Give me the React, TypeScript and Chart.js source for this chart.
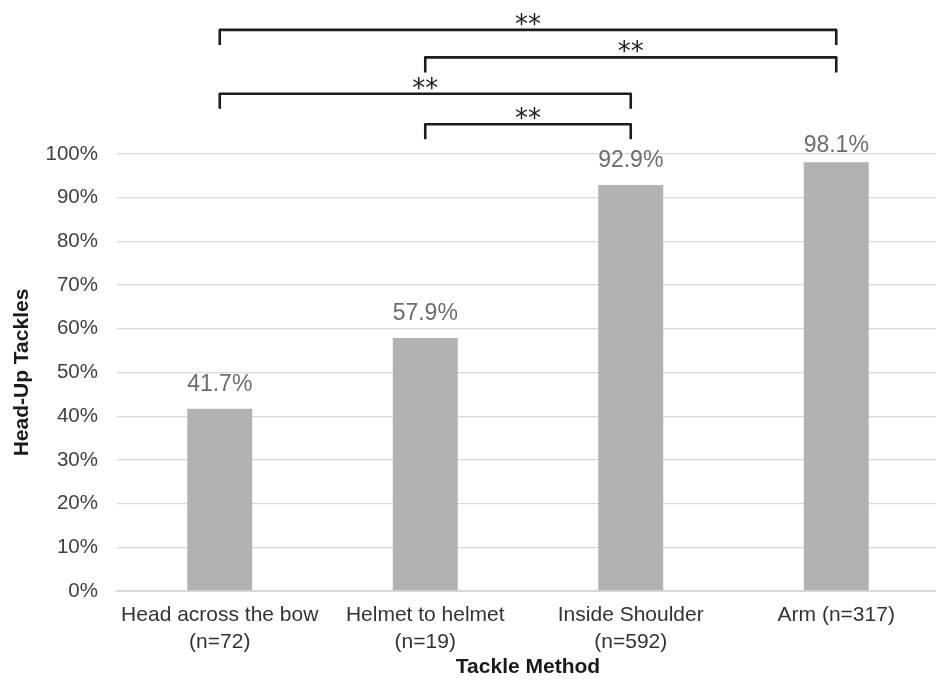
import React, { useEffect, useRef } from "react";
import { Chart, registerables } from "chart.js";

Chart.register(...registerables);

const categories = ["Head across the bow", "Helmet to helmet", "Inside Shoulder", "Arm"];
const sampleSizes = [72, 19, 592, 317];
const headUpPct = [41.7, 57.9, 92.9, 98.1];
const yTicks = [0, 10, 20, 30, 40, 50, 60, 70, 80, 90, 100];

// significance brackets: from category index, to category index, label, level (axis units)
const bracketFrom = [0, 1, 0, 1];
const bracketTo = [3, 3, 2, 2];
const bracketLabels = ["**", "**", "**", "**"];
const bracketLevels = [128.4, 122.1, 113.8, 106.8];

const labelLines = categories.map((c, i) =>
  c === "Arm" ? [`${c} (n=${sampleSizes[i]})`] : [c, `(n=${sampleSizes[i]})`]
);

const valueLabelPlugin = {
  id: "valueLabels",
  afterDatasetsDraw(chart: any) {
    const { ctx, chartArea } = chart;
    const meta = chart.getDatasetMeta(0);
    ctx.save();
    ctx.font = "23px 'Liberation Sans', Arial, sans-serif";
    ctx.fillStyle = "#6d6d6d";
    ctx.textAlign = "center";
    ctx.textBaseline = "middle";
    meta.data.forEach((bar: any, i: number) => {
      const y = Math.max(bar.y - 24, chartArea.top - 8);
      ctx.fillText(headUpPct[i].toFixed(1) + "%", bar.x, y);
    });
    ctx.restore();
  },
};

const bracketPlugin = {
  id: "brackets",
  afterDraw(chart: any) {
    const { ctx } = chart;
    const xs = chart.scales.x;
    const ys = chart.scales.y;
    ctx.save();
    ctx.strokeStyle = "#1c1c1c";
    ctx.lineWidth = 2.6;
    ctx.lineJoin = "round";
    ctx.lineCap = "butt";
    bracketFrom.forEach((f, i) => {
      const x1 = xs.getPixelForValue(f);
      const x2 = xs.getPixelForValue(bracketTo[i]);
      const y = ys.getPixelForValue(bracketLevels[i]);
      const leg = 15;
      ctx.beginPath();
      ctx.moveTo(x1, y + leg);
      ctx.lineTo(x1, y);
      ctx.lineTo(x2, y);
      ctx.lineTo(x2, y + leg);
      ctx.stroke();
      ctx.font = "26px 'DejaVu Sans', sans-serif";
      ctx.fillStyle = "#1c1c1c";
      ctx.textAlign = "center";
      ctx.textBaseline = "alphabetic";
      ctx.fillText(bracketLabels[i], (x1 + x2) / 2, y + 3);
    });
    ctx.restore();
  },
};

export default function App() {
  const ref = useRef<HTMLCanvasElement | null>(null);
  useEffect(() => {
    if (!ref.current) return;
    const chart = new Chart(ref.current, {
      type: "bar",
      data: {
        labels: labelLines,
        datasets: [
          {
            data: headUpPct,
            backgroundColor: "#b1b2b6",
            barPercentage: 1,
            categoryPercentage: 0.316,
          },
        ],
      },
      options: {
        animation: false,
        responsive: false,
        devicePixelRatio: 1,
        layout: { padding: { top: 154, right: 5, left: 0, bottom: 0 } },
        plugins: { legend: { display: false }, tooltip: { enabled: false } },
        scales: {
          x: {
            grid: { display: false, drawTicks: false },
            border: { display: true, color: "#d9d9d9", width: 2 },
            ticks: {
              color: "#333333",
              font: { family: "'Liberation Sans', Arial, sans-serif", size: 21, lineHeight: 1.2857 },
              padding: 11,
              maxRotation: 0,
              autoSkip: false,
            },
            title: {
              display: true,
              text: "Tackle Method",
              color: "#1a1a1a",
              font: { family: "'Liberation Sans', Arial, sans-serif", size: 21, weight: "bold" },
              padding: 0,
            },
            afterFit: (s: any) => {
              s.height = 89;
            },
          },
          y: {
            min: 0,
            max: 100,
            afterBuildTicks: (s: any) => {
              s.ticks = yTicks.map((v) => ({ value: v }));
            },
            grid: { color: "#d9d9d9", lineWidth: 1.3, drawTicks: false },
            border: { display: false },
            ticks: {
              color: "#404040",
              font: { family: "'Liberation Sans', Arial, sans-serif", size: 20.5 },
              padding: 19,
              callback: (v: any) => v + "%",
            },
            title: {
              display: true,
              text: "Head-Up Tackles",
              color: "#1a1a1a",
              font: { family: "'Liberation Sans', Arial, sans-serif", size: 21, weight: "bold" },
              padding: { top: 10, bottom: 0 },
            },
            afterFit: (s: any) => {
              s.width = 117;
            },
          },
        },
      },
      plugins: [valueLabelPlugin, bracketPlugin],
    });
    return () => chart.destroy();
  }, []);
  return (
    <div
      style={{
        position: "fixed",
        left: 0,
        top: 0,
        width: 936,
        height: 680,
        overflow: "hidden",
        background: "#ffffff",
      }}
    >
      <canvas ref={ref} width={944} height={680} style={{ display: "block" }} />
    </div>
  );
}
